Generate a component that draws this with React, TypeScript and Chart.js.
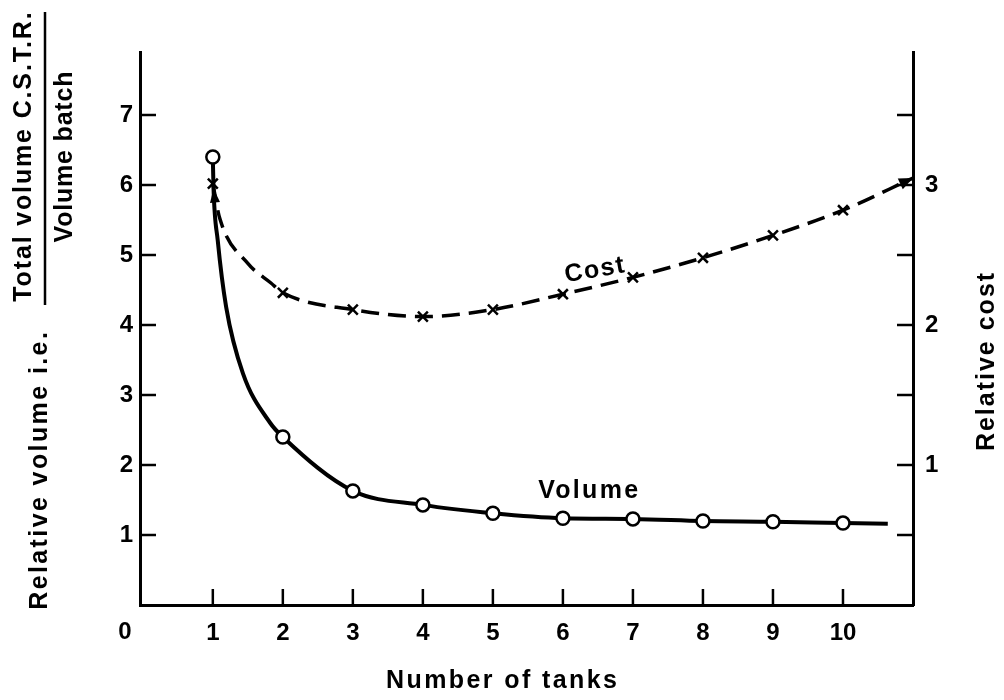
import React, { useEffect, useRef } from 'react';
import { Chart, registerables } from 'chart.js';

Chart.register(...registerables);

// ---- data ----
const tanks = [1, 2, 3, 4, 5, 6, 7, 8, 9, 10];
const volumeValues = [6.4, 2.4, 1.63, 1.43, 1.31, 1.24, 1.23, 1.2, 1.19, 1.17];
const costValues = [3.01, 2.23, 2.11, 2.06, 2.11, 2.22, 2.34, 2.48, 2.64, 2.82];

// hand-drawn curves
const volumeCurveX = [1, 1.01, 1.07, 1.19, 1.43, 1.82, 2, 3, 4, 5, 6, 7, 8, 9, 10, 10.64];
const volumeCurveY = [6.4, 5.95, 5.21, 4.26, 3.31, 2.6, 2.4, 1.63, 1.43, 1.31, 1.24, 1.23, 1.2, 1.19, 1.17, 1.16];
const costCurveX = [1, 1.1, 1.5, 1.83, 2, 3, 4, 5, 6, 7, 8, 9, 10, 11];
const costCurveY = [3.01, 2.76, 2.44, 2.3, 2.23, 2.11, 2.06, 2.11, 2.22, 2.34, 2.48, 2.64, 2.82, 3.05];

// ticks
const xTickValues = [1, 2, 3, 4, 5, 6, 7, 8, 9, 10];
const xTickLabels = ['1', '2', '3', '4', '5', '6', '7', '8', '9', '10'];
const leftTickValues = [1, 2, 3, 4, 5, 6, 7];
const leftTickLabels = ['1', '2', '3', '4', '5', '6', '7'];
const rightTickValues = [0.5, 1, 1.5, 2, 2.5, 3, 3.5];
const rightTickLabels = ['', '1', '', '2', '', '3', ''];
const originLabel = '0';

// texts
const xTitle = 'Number of tanks';
const leftTitleMain = 'Relative volume i.e.';
const leftTitleNum = 'Total volume C.S.T.R.';
const leftTitleDen = 'Volume batch';
const rightTitle = 'Relative cost';
const costLabel = 'Cost';
const volumeLabel = 'Volume';

const FAMILY = '"Liberation Sans", Arial, Helvetica, sans-serif';
const TEXT_FONT = `bold 25px ${FAMILY}`;

function drawText(ctx: CanvasRenderingContext2D, text: string, x: number, y: number, rot: number, spacing: number) {
  ctx.save();
  ctx.translate(x, y);
  ctx.rotate(rot);
  ctx.font = TEXT_FONT;
  (ctx as any).letterSpacing = spacing + 'px';
  ctx.textAlign = 'center';
  ctx.textBaseline = 'middle';
  ctx.fillStyle = '#000';
  ctx.fillText(text, spacing / 2, 0);
  ctx.restore();
}

function arrowHead(ctx: CanvasRenderingContext2D, tx: number, ty: number, fx: number, fy: number, len: number, half: number) {
  const a = Math.atan2(ty - fy, tx - fx);
  ctx.save();
  ctx.translate(tx, ty);
  ctx.rotate(a);
  ctx.beginPath();
  ctx.moveTo(0, 0);
  ctx.lineTo(-len, -half);
  ctx.lineTo(-len, half);
  ctx.closePath();
  ctx.fillStyle = '#000';
  ctx.fill();
  ctx.restore();
}

const decorPlugin = {
  id: 'decor',
  afterDraw(chart: any) {
    const ctx: CanvasRenderingContext2D = chart.ctx;
    const xs = chart.scales.x;
    const yl = chart.scales.yVol;
    const yr = chart.scales.yCost;
    const area = chart.chartArea;
    ctx.save();
    ctx.strokeStyle = '#000';
    ctx.lineWidth = 2.5;
    const seg = (x1: number, y1: number, x2: number, y2: number) => {
      ctx.beginPath();
      ctx.moveTo(x1, y1);
      ctx.lineTo(x2, y2);
      ctx.stroke();
    };
    xTickValues.forEach((v) => {
      const px = xs.getPixelForValue(v);
      seg(px, area.bottom, px, area.bottom - 16);
    });
    leftTickValues.forEach((v) => {
      const py = yl.getPixelForValue(v);
      seg(area.left, py, area.left + 16, py);
    });
    rightTickValues.forEach((v) => {
      const py = yr.getPixelForValue(v);
      seg(area.right, py, area.right - 16, py);
    });

    // origin label
    ctx.font = `bold 24px ${FAMILY}`;
    ctx.fillStyle = '#000';
    ctx.textAlign = 'center';
    ctx.textBaseline = 'middle';
    ctx.fillText(originLabel, area.left - 15, area.bottom + 27);

    // arrowheads
    const n = costCurveX.length;
    arrowHead(
      ctx,
      xs.getPixelForValue(costCurveX[n - 1]), yr.getPixelForValue(costCurveY[n - 1]),
      xs.getPixelForValue(costCurveX[n - 2]), yr.getPixelForValue(costCurveY[n - 2]),
      14, 6
    );
    arrowHead(
      ctx,
      xs.getPixelForValue(volumeCurveX[1]), yl.getPixelForValue(volumeCurveY[1]),
      xs.getPixelForValue(volumeCurveX[3]), yl.getPixelForValue(volumeCurveY[3]),
      14, 5
    );

    // curve labels
    drawText(ctx, costLabel, xs.getPixelForValue(6.45), yr.getPixelForValue(2.39), -0.17, 1.5);
    drawText(ctx, volumeLabel, xs.getPixelForValue(6.36), yl.getPixelForValue(1.63), 0, 2.3);

    // axis titles
    drawText(ctx, xTitle, (area.left + area.right) / 2 - 25, 681, 0, 2.4);
    drawText(ctx, leftTitleMain, 40, 471, -Math.PI / 2, 2.4);
    drawText(ctx, leftTitleNum, 24, 157, -Math.PI / 2, 1.85);
    drawText(ctx, leftTitleDen, 65, 157, -Math.PI / 2, 0.8);
    ctx.lineWidth = 2.5;
    seg(45, 12, 45, 305);
    drawText(ctx, rightTitle, 987, 362, -Math.PI / 2, 2);
    ctx.restore();
  },
};

export default function App() {
  const ref = useRef<HTMLCanvasElement>(null);
  useEffect(() => {
    const tickFont = { family: FAMILY, size: 24, weight: 'bold' as const };
    const chart = new Chart(ref.current!, {
      type: 'scatter',
      data: {
        datasets: [
          {
            label: 'Volume points',
            data: tanks.map((t, i) => ({ x: t, y: volumeValues[i] })),
            yAxisID: 'yVol',
            showLine: false,
            pointStyle: 'circle',
            pointRadius: 6.5,
            pointBorderWidth: 2.5,
            pointBackgroundColor: '#fff',
            pointBorderColor: '#000',
            order: 0,
          },
          {
            label: 'Cost points',
            data: tanks.map((t, i) => ({ x: t, y: costValues[i] })),
            yAxisID: 'yCost',
            showLine: false,
            pointStyle: 'crossRot',
            pointRadius: 7,
            pointBorderWidth: 2.5,
            pointBackgroundColor: '#000',
            pointBorderColor: '#000',
            order: 1,
          },
          {
            label: 'Volume curve',
            type: 'line',
            data: volumeCurveX.map((x, i) => ({ x, y: volumeCurveY[i] })),
            yAxisID: 'yVol',
            borderColor: '#000',
            borderWidth: 4,
            pointRadius: 0,
            fill: false,
            cubicInterpolationMode: 'monotone',
            order: 2,
          } as any,
          {
            label: 'Cost curve',
            type: 'line',
            data: costCurveX.map((x, i) => ({ x, y: costCurveY[i] })),
            yAxisID: 'yCost',
            borderColor: '#000',
            borderWidth: 3.5,
            borderDash: [18, 9],
            pointRadius: 0,
            fill: false,
            cubicInterpolationMode: 'monotone',
            order: 3,
          } as any,
        ],
      },
      options: {
        responsive: false,
        animation: false,
        devicePixelRatio: 1,
        events: [],
        layout: { padding: { top: 52, left: 0, right: 0, bottom: 0 } },
        plugins: { legend: { display: false }, tooltip: { enabled: false } },
        scales: {
          x: {
            type: 'linear',
            position: 'bottom',
            min: -0.04,
            max: 11,
            afterBuildTicks: (s: any) => {
              s.ticks = xTickValues.map((v) => ({ value: v }));
            },
            afterFit: (s: any) => {
              s.height = 95;
            },
            grid: { display: false, drawTicks: false },
            border: { display: true, color: '#000', width: 3 },
            ticks: {
              font: tickFont,
              color: '#000',
              padding: 14,
              autoSkip: false,
              maxRotation: 0,
              callback: (v: any) => {
                const i = xTickValues.indexOf(Number(v));
                return i >= 0 ? xTickLabels[i] : '';
              },
            },
          },
          yVol: {
            type: 'linear',
            position: 'left',
            min: 0,
            max: 7.9,
            afterBuildTicks: (s: any) => {
              s.ticks = leftTickValues.map((v) => ({ value: v }));
            },
            afterFit: (s: any) => {
              s.width = 140;
            },
            grid: { display: false, drawTicks: false },
            border: { display: true, color: '#000', width: 3 },
            ticks: {
              font: tickFont,
              color: '#000',
              padding: 7,
              autoSkip: false,
              callback: (v: any) => {
                const i = leftTickValues.indexOf(Number(v));
                return i >= 0 ? leftTickLabels[i] : '';
              },
            },
          },
          yCost: {
            type: 'linear',
            position: 'right',
            min: 0,
            max: 3.95,
            afterBuildTicks: (s: any) => {
              s.ticks = rightTickValues.map((v) => ({ value: v }));
            },
            afterFit: (s: any) => {
              s.width = 91;
            },
            grid: { display: false, drawTicks: false },
            border: { display: true, color: '#000', width: 3 },
            ticks: {
              font: tickFont,
              color: '#000',
              padding: 12,
              autoSkip: false,
              callback: (v: any) => {
                const i = rightTickValues.indexOf(Number(v));
                return i >= 0 ? rightTickLabels[i] : '';
              },
            },
          },
        },
      } as any,
      plugins: [decorPlugin],
    });
    return () => chart.destroy();
  }, []);
  return (
    <canvas
      ref={ref}
      width={1004}
      height={700}
      style={{ position: 'absolute', left: 0, top: 0, width: 1004, height: 700 }}
    />
  );
}
